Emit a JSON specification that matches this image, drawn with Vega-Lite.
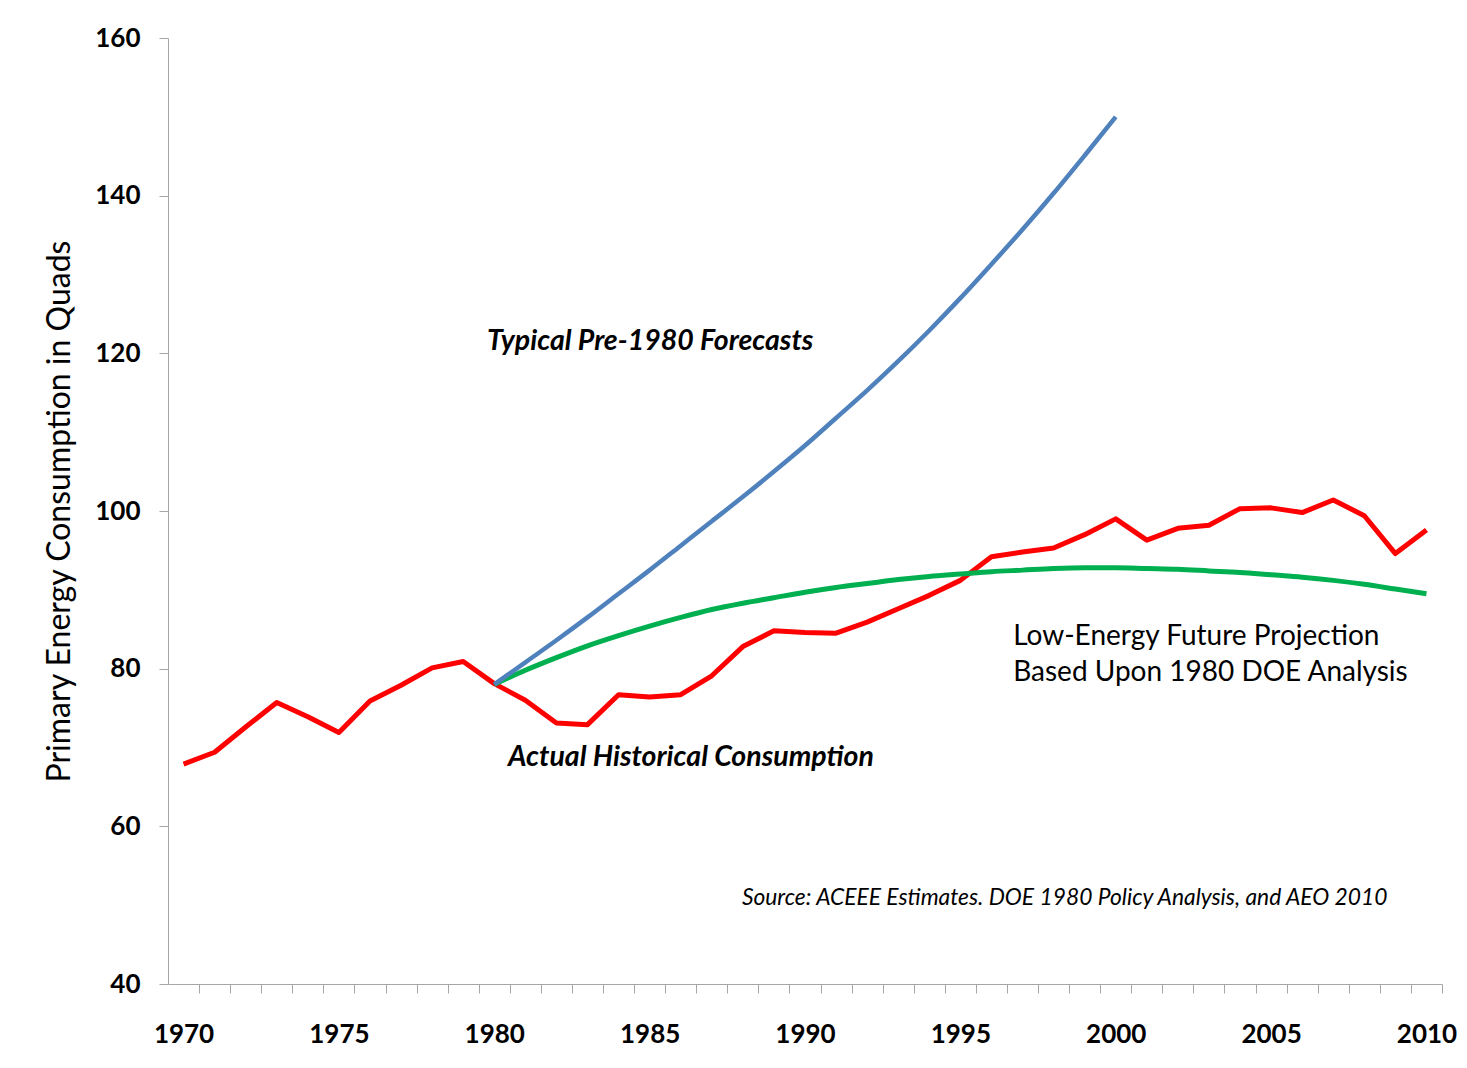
{
  "$schema": "https://vega.github.io/schema/vega-lite/v6.json",
  "autosize": "none",
  "width": 1274,
  "height": 946,
  "padding": {"left": 168, "top": 38, "right": 25, "bottom": 84},
  "background": "white",
  "config": {
    "font": "Lato",
    "view": {"stroke": null},
    "axis": {"grid": false, "domainColor": "#a6a6a6", "tickColor": "#a6a6a6", "labelColor": "#000000", "titleColor": "#000000"}
  },
  "datasets": {
    "series": [
      {"year": 1970, "series": "Actual", "quads": 67.9},
      {"year": 1971, "series": "Actual", "quads": 69.4},
      {"year": 1972, "series": "Actual", "quads": 72.6},
      {"year": 1973, "series": "Actual", "quads": 75.7},
      {"year": 1974, "series": "Actual", "quads": 73.9},
      {"year": 1975, "series": "Actual", "quads": 71.9},
      {"year": 1976, "series": "Actual", "quads": 75.9},
      {"year": 1977, "series": "Actual", "quads": 77.9},
      {"year": 1978, "series": "Actual", "quads": 80.1},
      {"year": 1979, "series": "Actual", "quads": 80.9},
      {"year": 1980, "series": "Actual", "quads": 78.1},
      {"year": 1981, "series": "Actual", "quads": 76.0},
      {"year": 1982, "series": "Actual", "quads": 73.1},
      {"year": 1983, "series": "Actual", "quads": 72.9},
      {"year": 1984, "series": "Actual", "quads": 76.7},
      {"year": 1985, "series": "Actual", "quads": 76.4},
      {"year": 1986, "series": "Actual", "quads": 76.7},
      {"year": 1987, "series": "Actual", "quads": 79.1},
      {"year": 1988, "series": "Actual", "quads": 82.8},
      {"year": 1989, "series": "Actual", "quads": 84.8},
      {"year": 1990, "series": "Actual", "quads": 84.6},
      {"year": 1991, "series": "Actual", "quads": 84.5},
      {"year": 1992, "series": "Actual", "quads": 85.9},
      {"year": 1993, "series": "Actual", "quads": 87.6},
      {"year": 1994, "series": "Actual", "quads": 89.3},
      {"year": 1995, "series": "Actual", "quads": 91.2},
      {"year": 1996, "series": "Actual", "quads": 94.2},
      {"year": 1997, "series": "Actual", "quads": 94.8},
      {"year": 1998, "series": "Actual", "quads": 95.3},
      {"year": 1999, "series": "Actual", "quads": 97.0},
      {"year": 2000, "series": "Actual", "quads": 99.0},
      {"year": 2001, "series": "Actual", "quads": 96.3},
      {"year": 2002, "series": "Actual", "quads": 97.8},
      {"year": 2003, "series": "Actual", "quads": 98.2},
      {"year": 2004, "series": "Actual", "quads": 100.3},
      {"year": 2005, "series": "Actual", "quads": 100.4},
      {"year": 2006, "series": "Actual", "quads": 99.8},
      {"year": 2007, "series": "Actual", "quads": 101.4},
      {"year": 2008, "series": "Actual", "quads": 99.4},
      {"year": 2009, "series": "Actual", "quads": 94.6},
      {"year": 2010, "series": "Actual", "quads": 97.6},
      {"year": 1980, "series": "LowEnergy", "quads": 78.0},
      {"year": 1981, "series": "LowEnergy", "quads": 79.8},
      {"year": 1982, "series": "LowEnergy", "quads": 81.4},
      {"year": 1983, "series": "LowEnergy", "quads": 82.9},
      {"year": 1984, "series": "LowEnergy", "quads": 84.2},
      {"year": 1985, "series": "LowEnergy", "quads": 85.4},
      {"year": 1986, "series": "LowEnergy", "quads": 86.5},
      {"year": 1987, "series": "LowEnergy", "quads": 87.5},
      {"year": 1988, "series": "LowEnergy", "quads": 88.3},
      {"year": 1989, "series": "LowEnergy", "quads": 89.0},
      {"year": 1990, "series": "LowEnergy", "quads": 89.7},
      {"year": 1991, "series": "LowEnergy", "quads": 90.3},
      {"year": 1992, "series": "LowEnergy", "quads": 90.8},
      {"year": 1993, "series": "LowEnergy", "quads": 91.3},
      {"year": 1994, "series": "LowEnergy", "quads": 91.7},
      {"year": 1995, "series": "LowEnergy", "quads": 92.0},
      {"year": 1996, "series": "LowEnergy", "quads": 92.3},
      {"year": 1997, "series": "LowEnergy", "quads": 92.5},
      {"year": 1998, "series": "LowEnergy", "quads": 92.7},
      {"year": 1999, "series": "LowEnergy", "quads": 92.8},
      {"year": 2000, "series": "LowEnergy", "quads": 92.8},
      {"year": 2001, "series": "LowEnergy", "quads": 92.7},
      {"year": 2002, "series": "LowEnergy", "quads": 92.6},
      {"year": 2003, "series": "LowEnergy", "quads": 92.4},
      {"year": 2004, "series": "LowEnergy", "quads": 92.2},
      {"year": 2005, "series": "LowEnergy", "quads": 91.9},
      {"year": 2006, "series": "LowEnergy", "quads": 91.6},
      {"year": 2007, "series": "LowEnergy", "quads": 91.2},
      {"year": 2008, "series": "LowEnergy", "quads": 90.7},
      {"year": 2009, "series": "LowEnergy", "quads": 90.1},
      {"year": 2010, "series": "LowEnergy", "quads": 89.5},
      {"year": 1980, "series": "Forecast", "quads": 78.0},
      {"year": 1981, "series": "Forecast", "quads": 80.8},
      {"year": 1982, "series": "Forecast", "quads": 83.6},
      {"year": 1983, "series": "Forecast", "quads": 86.5},
      {"year": 1984, "series": "Forecast", "quads": 89.5},
      {"year": 1985, "series": "Forecast", "quads": 92.5},
      {"year": 1986, "series": "Forecast", "quads": 95.6},
      {"year": 1987, "series": "Forecast", "quads": 98.7},
      {"year": 1988, "series": "Forecast", "quads": 101.8},
      {"year": 1989, "series": "Forecast", "quads": 105.0},
      {"year": 1990, "series": "Forecast", "quads": 108.3},
      {"year": 1991, "series": "Forecast", "quads": 111.8},
      {"year": 1992, "series": "Forecast", "quads": 115.3},
      {"year": 1993, "series": "Forecast", "quads": 119.0},
      {"year": 1994, "series": "Forecast", "quads": 122.9},
      {"year": 1995, "series": "Forecast", "quads": 127.0},
      {"year": 1996, "series": "Forecast", "quads": 131.3},
      {"year": 1997, "series": "Forecast", "quads": 135.7},
      {"year": 1998, "series": "Forecast", "quads": 140.3},
      {"year": 1999, "series": "Forecast", "quads": 145.1},
      {"year": 2000, "series": "Forecast", "quads": 150.0}
    ],
    "notes": [
      {"kind": "italic", "year": 1979.77, "quads": 120.4, "label": "Typical Pre-1980 Forecasts"},
      {"kind": "italic", "year": 1980.44, "quads": 67.65, "label": "Actual Historical Consumption"},
      {"kind": "plain", "year": 1996.7, "quads": 83.0, "label": "Low-Energy Future Projection"},
      {"kind": "plain", "year": 1996.7, "quads": 78.4, "label": "Based Upon 1980 DOE Analysis"},
      {"kind": "source", "year": 1987.97, "quads": 50.0, "label": "Source: ACEEE Estimates. DOE 1980 Policy Analysis, and AEO 2010"}
    ]
  },
  "encoding": {
    "x": {
      "field": "year", "type": "quantitative",
      "scale": {"domain": [1969.5, 2010.5], "nice": false, "zero": false},
      "axis": {
        "title": null,
        "values": [1969, 1970, 1971, 1972, 1973, 1974, 1975, 1976, 1977, 1978, 1979, 1980, 1981, 1982, 1983, 1984, 1985, 1986, 1987, 1988, 1989, 1990, 1991, 1992, 1993, 1994, 1995, 1996, 1997, 1998, 1999, 2000, 2001, 2002, 2003, 2004, 2005, 2006, 2007, 2008, 2009, 2010],
        "tickOffset": 15.54,
        "labelOffset": -15.54,
        "labelExpr": "datum.value % 5 === 0 ? datum.value + '' : ''",
        "labelFlush": false,
        "labelOverlap": false,
        "labelFontSize": 26,
        "labelFontWeight": "bold",
        "labelBaseline": "alphabetic",
        "labelPadding": 49,
        "tickSize": 9
      }
    },
    "y": {
      "field": "quads", "type": "quantitative",
      "scale": {"domain": [40, 160], "nice": false, "zero": false},
      "axis": {
        "title": "Primary Energy Consumption in Quads",
        "values": [40, 60, 80, 100, 120, 140, 160],
        "labelFontSize": 26,
        "labelFontWeight": "bold",
        "labelPadding": 19,
        "tickSize": 9,
        "titleFontSize": 32,
        "titleFontWeight": "normal",
        "titlePadding": 18
      }
    }
  },
  "layer": [
    {
      "data": {"name": "series"},
      "transform": [{"filter": "datum.series === 'Actual'"}],
      "mark": {"type": "line", "color": "#FF0000", "strokeWidth": 5, "strokeJoin": "round"}
    },
    {
      "data": {"name": "series"},
      "transform": [{"filter": "datum.series === 'LowEnergy'"}],
      "mark": {"type": "line", "color": "#00B050", "strokeWidth": 5, "interpolate": "monotone"}
    },
    {
      "data": {"name": "series"},
      "transform": [{"filter": "datum.series === 'Forecast'"}],
      "mark": {"type": "line", "color": "#4F81BD", "strokeWidth": 4.5, "interpolate": "monotone"}
    },
    {
      "data": {"name": "notes"},
      "transform": [{"filter": "datum.kind === 'italic'"}],
      "mark": {"type": "text", "align": "left", "baseline": "alphabetic", "fontSize": 28.5, "fontStyle": "italic", "fontWeight": "bold", "color": "#000000"},
      "encoding": {"text": {"field": "label"}}
    },
    {
      "data": {"name": "notes"},
      "transform": [{"filter": "datum.kind === 'plain'"}],
      "mark": {"type": "text", "align": "left", "baseline": "alphabetic", "fontSize": 28, "color": "#000000"},
      "encoding": {"text": {"field": "label"}}
    },
    {
      "data": {"name": "notes"},
      "transform": [{"filter": "datum.kind === 'source'"}],
      "mark": {"type": "text", "align": "left", "baseline": "alphabetic", "fontSize": 22.8, "fontStyle": "italic", "color": "#000000"},
      "encoding": {"text": {"field": "label"}}
    }
  ]
}
